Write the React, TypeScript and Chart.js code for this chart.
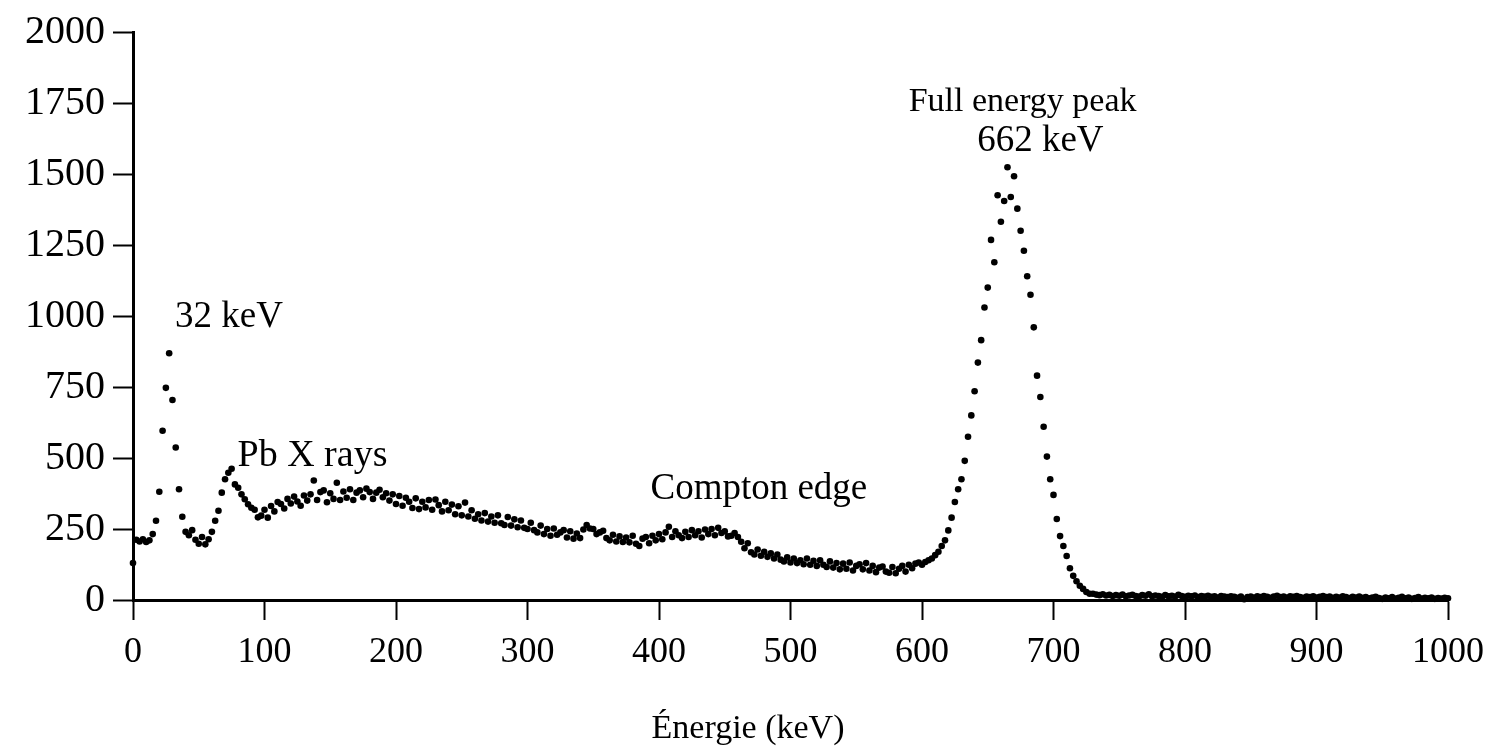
import React, { useEffect, useRef } from "react";
import { Chart, registerables } from "chart.js";

Chart.register(...registerables);

// Gamma spectrum of a Cs-137 source, one value per MCA channel.
const CHANNEL_WIDTH_KEV = 2.5;

// Counts per channel, 20 channels (50 keV) per row, starting at 0 keV.
const countsPerChannel: number[] = [
  130, 212, 206, 214, 204, 210, 232, 279, 381, 596, 747, 869, 704, 537, 390, 293, 240, 228, 246, 212,
  198, 222, 196, 214, 240, 279, 314, 378, 425, 448, 462, 407, 395, 372, 355, 337, 325, 318, 291, 297,
  318, 290, 331, 312, 345, 338, 322, 356, 340, 364, 347, 332, 368, 350, 372, 421, 352, 380, 386, 344,
  376, 356, 413, 352, 382, 360, 390, 352, 378, 386, 362, 392, 380, 356, 378, 388, 362, 376, 350, 372,
  338, 366, 332, 360, 346, 324, 358, 320, 346, 326, 352, 318, 354, 334, 312, 346, 316, 336, 302, 330,
  298, 343, 294, 316, 286, 302, 280, 306, 276, 294, 272, 298, 270, 264, 292, 262, 284, 256, 280, 254,
  250, 272, 246, 238, 262, 232, 250, 226, 252, 230, 238, 246, 220, 242, 216, 234, 218, 248, 264, 252,
  250, 232, 238, 244, 218, 210, 230, 206, 224, 204, 220, 203, 226, 198, 190, 216, 222, 200, 226, 210,
  232, 214, 238, 258, 222, 242, 228, 218, 240, 222, 246, 228, 242, 220, 248, 232, 250, 228, 254, 236,
  242, 224, 226, 236, 222, 205, 182, 200, 168, 160, 178, 156, 170, 152, 164, 146, 160, 142, 136, 150,
  132, 146, 130, 140, 126, 146, 124, 138, 120, 140, 124, 116, 136, 114, 130, 108, 128, 110, 132, 104,
  120, 126, 108, 130, 104, 120, 98, 114, 118, 100, 96, 116, 94, 110, 120, 100, 124, 112, 128, 132,
  124, 134, 140, 146, 158, 170, 190, 210, 245, 290, 345, 390, 425, 490, 575, 650, 735, 836, 915, 1030,
  1100, 1268, 1189, 1425, 1332, 1405, 1524, 1419, 1492, 1378, 1300, 1230, 1140, 1075, 960, 790, 715, 610, 505, 425,
  370, 285, 225, 190, 155, 112, 85, 66, 50, 39, 28, 22, 22, 19, 17, 20, 16, 18, 14, 17,
  15, 19, 13, 16, 18, 14, 12, 17, 15, 20, 13, 16, 14, 11, 17, 13, 15, 12, 18, 14,
  11, 15, 13, 16, 10, 14, 12, 15, 11, 13, 9, 14, 12, 10, 13, 11, 8, 12, 3, 10,
  12, 9, 13, 10, 14, 11, 8, 12, 15, 10, 12, 9, 13, 11, 14, 10, 8, 12, 10, 13,
  9, 11, 14, 10, 12, 8, 11, 9, 13, 10, 7, 11, 9, 12, 8, 10, 6, 9, 11, 7,
  4, 9, 6, 10, 5, 8, 11, 6, 9, 4, 7, 10, 5, 8, 6, 9, 4, 7, 5, 8,
  6,
];

const xTickValues = [0, 100, 200, 300, 400, 500, 600, 700, 800, 900, 1000];
const yTickValues = [0, 250, 500, 750, 1000, 1250, 1500, 1750, 2000];

const xAxisTitle = "Énergie (keV)";

// Peak labels, anchored in data coordinates (keV, counts).
const peakLabels = [
  { text: "32 keV", e: 32, c: 995, align: "left", size: 37 },
  { text: "Pb X rays", e: 79.5, c: 506, align: "left", size: 38 },
  { text: "Compton edge", e: 393.5, c: 391, align: "left", size: 37 },
  { text: "Full energy peak", e: 676.5, c: 1755, align: "center", size: 34 },
  { text: "662 keV", e: 690, c: 1616, align: "center", size: 37 },
];

const SERIF = "'Liberation Serif', 'Times New Roman', serif";

const labelsPlugin = {
  id: "spectrumLabels",
  afterDraw(chart: any) {
    const { ctx, chartArea, scales } = chart;
    ctx.save();
    ctx.fillStyle = "#000";
    ctx.textBaseline = "middle";
    for (const l of peakLabels) {
      ctx.font = `${l.size}px ${SERIF}`;
      ctx.textAlign = l.align;
      ctx.fillText(l.text, scales.x.getPixelForValue(l.e), scales.y.getPixelForValue(l.c));
    }
    ctx.font = `34px ${SERIF}`;
    ctx.textAlign = "center";
    ctx.fillText(
      xAxisTitle,
      chartArea.left + 0.4677 * (chartArea.right - chartArea.left),
      chartArea.bottom + 129
    );
    ctx.restore();
  },
};

export default function App() {
  const canvasRef = useRef<HTMLCanvasElement | null>(null);

  useEffect(() => {
    if (!canvasRef.current) return;
    const points = countsPerChannel.map((c, i) => ({ x: i * CHANNEL_WIDTH_KEV, y: c }));
    const chart = new Chart(canvasRef.current, {
      type: "scatter",
      data: {
        datasets: [
          {
            data: points,
            backgroundColor: "#000",
            borderColor: "#000",
            borderWidth: 0,
            pointRadius: 3.3,
            pointHoverRadius: 3.3,
            clip: false,
          } as any,
        ],
      },
      options: {
        responsive: false,
        animation: false,
        events: [],
        layout: { padding: { left: 0, right: 51, top: 27, bottom: 0 } },
        plugins: {
          legend: { display: false },
          tooltip: { enabled: false },
          title: { display: false },
        },
        scales: {
          x: {
            type: "linear",
            min: 0,
            max: 1000,
            afterBuildTicks: (scale: any) => {
              scale.ticks = xTickValues.map((v) => ({ value: v }));
            },
            afterFit: (scale: any) => {
              scale.height = 151;
            },
            grid: {
              drawOnChartArea: false,
              drawTicks: true,
              tickLength: 20,
              tickWidth: 2,
              tickColor: "#000",
            },
            border: { display: true, color: "#000", width: 3 },
            ticks: {
              color: "#000",
              padding: 11,
              maxRotation: 0,
              autoSkip: false,
              font: { family: SERIF, size: 36 },
              callback: (v: any) => String(v),
            },
          },
          y: {
            type: "linear",
            min: 0,
            max: 2000,
            afterBuildTicks: (scale: any) => {
              scale.ticks = yTickValues.map((v) => ({ value: v }));
            },
            afterFit: (scale: any) => {
              scale.width = 133;
            },
            grid: {
              drawOnChartArea: false,
              drawTicks: true,
              tickLength: 20,
              tickWidth: 2,
              tickColor: "#000",
            },
            border: { display: true, color: "#000", width: 3 },
            ticks: {
              color: "#000",
              padding: 8,
              autoSkip: false,
              font: { family: SERIF, size: 40 },
              callback: (v: any) => String(v),
            },
          },
        },
      },
      plugins: [labelsPlugin],
    });
    return () => chart.destroy();
  }, []);

  return (
    <div style={{ position: "fixed", left: 0, top: 0, width: 1499, height: 751, background: "#fff" }}>
      <canvas ref={canvasRef} width={1499} height={751} style={{ display: "block" }} />
    </div>
  );
}
